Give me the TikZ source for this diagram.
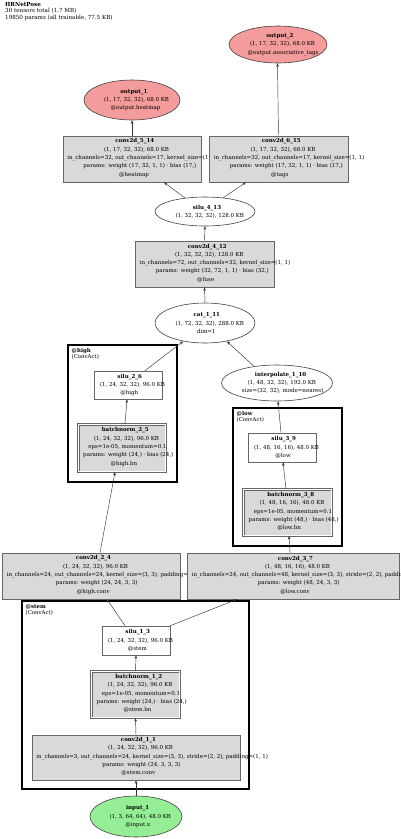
\documentclass[tikz,border=0pt]{standalone}
\usepackage{fontspec}
\setmainfont{DejaVu Serif}
\usetikzlibrary{shapes.geometric,arrows.meta}
\definecolor{boxfill}{HTML}{D9D9D9}
\definecolor{boxline}{HTML}{666666}
\definecolor{outfill}{HTML}{F49B9B}
\definecolor{infill}{HTML}{95EE95}
\definecolor{edgecol}{HTML}{333333}
\newlength\gllen
\newcommand\gl[1]{\settowidth\gllen{#1}\makebox[0.86\gllen][l]{#1}}
\tikzset{
  txt/.style={font=\fontsize{5.5}{8.3}\selectfont, align=center, inner sep=0pt},
  gbox/.style={rectangle, draw=boxline, fill=boxfill, line width=0.6pt, inner sep=0pt},
  wbox/.style={rectangle, draw=boxline, fill=white, line width=0.6pt, inner sep=0pt},
  dbox/.style={rectangle, draw=boxline, double=white, double distance=1.3pt, line width=0.6pt, fill=boxfill, inner sep=0pt},
  well/.style={ellipse, draw=black!75, fill=white, line width=0.6pt, inner sep=0pt},
  oell/.style={ellipse, draw=black!75, fill=outfill, line width=0.6pt, inner sep=0pt},
  iell/.style={ellipse, draw=black!75, fill=infill, line width=0.6pt, inner sep=0pt},
  clus/.style={rectangle, draw=black, line width=2pt, inner sep=0pt},
  clab/.style={font=\fontsize{5.4}{6.1}\selectfont, align=left, inner sep=0pt, anchor=north west},
  edge/.style={draw=edgecol, line width=0.45pt, -{Stealth[length=3.5pt,width=2.6pt]}},
}
\begin{document}
\begin{tikzpicture}[x=1pt,y=-1pt]
\useasboundingbox (0,0) rectangle (400,839);
% title
\node[font=\fontsize{5.6}{6.5}\selectfont, align=left, inner sep=0pt, anchor=north west] (title) at (5,2)
  {\textbf{HRNetPose}\\30 tensors total (1.7 MB)\\19850 params (all trainable, 77.5 KB)};
% clusters
\node[clus, minimum width=109pt, minimum height=137pt] (high) at (122.5,413.5) {};
\node[clab] (highlab) at (71.5,348) {\textbf{@high}\\(ConvAct)};
\node[clus, minimum width=109pt, minimum height=138pt] (low) at (287.5,477) {};
\node[clab] (lowlab) at (236.5,411) {\textbf{@low}\\(ConvAct)};
\node[clus, minimum width=227pt, minimum height=188pt] (stem) at (135.5,695) {};
\node[clab] (stemlab) at (25.5,604) {\textbf{@stem}\\(ConvAct)};
% outputs
\node[oell, minimum width=98pt, minimum height=37pt] (o2) at (278,44.5) {};
\node[txt] (o2t) at (o2) {\gl{\textbf{output\_2}}\\\gl{(1, 17, 32, 32), 68.0 KB}\\\gl{@output.associative\_tags}};
\node[oell, minimum width=96pt, minimum height=40pt] (o1) at (132,100) {};
\node[txt] (o1t) at (o1) {\gl{\textbf{output\_1}}\\\gl{(1, 17, 32, 32), 68.0 KB}\\\gl{@output.heatmap}};
% heads
\node[gbox, minimum width=138pt, minimum height=46pt] (c514) at (132,159) {};
\node[txt] (c514t) at ([yshift=1pt]c514.center) {\gl{\textbf{conv2d\_5\_14}}\\\gl{(1, 17, 32, 32), 68.0 KB}\\\gl{in\_channels=32, out\_channels=17, kernel\_size=(1, 1)}\\\gl{params: weight (17, 32, 1, 1) · bias (17,)}\\\gl{@heatmap}};
\node[gbox, minimum width=139pt, minimum height=46pt] (c615) at (278.5,159) {};
\node[txt] (c615t) at ([yshift=1pt]c615.center) {\gl{\textbf{conv2d\_6\_15}}\\\gl{(1, 17, 32, 32), 68.0 KB}\\\gl{in\_channels=32, out\_channels=17, kernel\_size=(1, 1)}\\\gl{params: weight (17, 32, 1, 1) · bias (17,)}\\\gl{@tags}};
\node[well, minimum width=100pt, minimum height=29pt] (s413) at (205,211.5) {};
\node[txt] (s413t) at (s413) {\gl{\textbf{silu\_4\_13}}\\\gl{(1, 32, 32, 32), 128.0 KB}};
\node[gbox, minimum width=139pt, minimum height=46pt] (c412) at (204.5,264) {};
\node[txt] (c412t) at ([yshift=1pt]c412.center) {\gl{\textbf{conv2d\_4\_12}}\\\gl{(1, 32, 32, 32), 128.0 KB}\\\gl{in\_channels=72, out\_channels=32, kernel\_size=(1, 1)}\\\gl{params: weight (32, 72, 1, 1) · bias (32,)}\\\gl{@fuse}};
\node[well, minimum width=100pt, minimum height=40pt] (cat) at (205,323) {};
\node[txt] (catt) at (cat) {\gl{\textbf{cat\_1\_11}}\\\gl{(1, 72, 32, 32), 288.0 KB}\\\gl{dim=1}};
% high branch
\node[wbox, minimum width=68pt, minimum height=28pt] (s26) at (128,385) {};
\node[txt] (s26t) at (s26) {\gl{\textbf{silu\_2\_6}}\\\gl{(1, 24, 32, 32), 96.0 KB}\\\gl{@high}};
\node[dbox, minimum width=87.5pt, minimum height=47.5pt] (bn25) at (122,448) {};
\node[txt] (bn25t) at ([yshift=1pt]bn25.center) {\gl{\textbf{batchnorm\_2\_5}}\\\gl{(1, 24, 32, 32), 96.0 KB}\\\gl{eps=1e-05, momentum=0.1}\\\gl{params: weight (24,) · bias (24,)}\\\gl{@high.bn}};
% low branch
\node[well, minimum width=111pt, minimum height=36pt] (interp) at (277,383) {};
\node[txt] (interpt) at (interp) {\gl{\textbf{interpolate\_1\_10}}\\\gl{(1, 48, 32, 32), 192.0 KB}\\\gl{size=(32, 32), mode=nearest}};
\node[wbox, minimum width=68pt, minimum height=29pt] (s39) at (282,447.5) {};
\node[txt] (s39t) at (s39) {\gl{\textbf{silu\_3\_9}}\\\gl{(1, 48, 16, 16), 48.0 KB}\\\gl{@low}};
\node[dbox, minimum width=88.5pt, minimum height=46.5pt] (bn38) at (287.5,512.5) {};
\node[txt] (bn38t) at ([yshift=1pt]bn38.center) {\gl{\textbf{batchnorm\_3\_8}}\\\gl{(1, 48, 16, 16), 48.0 KB}\\\gl{eps=1e-05, momentum=0.1}\\\gl{params: weight (48,) · bias (48,)}\\\gl{@low.bn}};
% convs
\node[gbox, minimum width=178pt, minimum height=46pt] (c24) at (91,576) {};
\node[txt] (c24t) at ([yshift=1pt]c24.center) {\gl{\textbf{conv2d\_2\_4}}\\\gl{(1, 24, 32, 32), 96.0 KB}\\\gl{in\_channels=24, out\_channels=24, kernel\_size=(3, 3), padding=(1, 1)}\\\gl{params: weight (24, 24, 3, 3)}\\\gl{@high.conv}};
\node[gbox, minimum width=212pt, minimum height=46pt] (c37) at (293,576) {};
\node[txt] (c37t) at ([yshift=1pt]c37.center) {\gl{\textbf{conv2d\_3\_7}}\\\gl{(1, 48, 16, 16), 48.0 KB}\\\gl{in\_channels=24, out\_channels=48, kernel\_size=(3, 3), stride=(2, 2), padding=(1, 1)}\\\gl{params: weight (48, 24, 3, 3)}\\\gl{@low.conv}};
% stem
\node[wbox, minimum width=68pt, minimum height=29pt] (s13) at (136,640.5) {};
\node[txt] (s13t) at (s13) {\gl{\textbf{silu\_1\_3}}\\\gl{(1, 24, 32, 32), 96.0 KB}\\\gl{@stem}};
\node[dbox, minimum width=88.5pt, minimum height=46.5pt] (bn12) at (135.5,694.5) {};
\node[txt] (bn12t) at ([yshift=1pt]bn12.center) {\gl{\textbf{batchnorm\_1\_2}}\\\gl{(1, 24, 32, 32), 96.0 KB}\\\gl{eps=1e-05, momentum=0.1}\\\gl{params: weight (24,) · bias (24,)}\\\gl{@stem.bn}};
\node[gbox, minimum width=208pt, minimum height=45pt] (c11) at (136,757.5) {};
\node[txt] (c11t) at ([yshift=1pt]c11.center) {\gl{\textbf{conv2d\_1\_1}}\\\gl{(1, 24, 32, 32), 96.0 KB}\\\gl{in\_channels=3, out\_channels=24, kernel\_size=(3, 3), stride=(2, 2), padding=(1, 1)}\\\gl{params: weight (24, 3, 3, 3)}\\\gl{@stem.conv}};
\node[iell, minimum width=92pt, minimum height=41pt] (in1) at (136,816.5) {};
\node[txt] (in1t) at (in1) {\gl{\textbf{input\_1}}\\\gl{(1, 3, 64, 64), 48.0 KB}\\\gl{@input.x}};
% edges
\draw[edge] (in1.north) -- (c11.south);
\draw[edge] (c11.north) -- (bn12.south);
\draw[edge] (bn12.north) -- (s13.south);
\draw[edge] ([xshift=-11pt]s13.north) -- ([xshift=16pt]c24.south);
\draw[edge] (s13.north east) -- ([xshift=-56pt]c37.south);
\draw[edge] ([xshift=9pt]c24.north) -- ([xshift=-7pt]bn25.south);
\draw[edge] ([xshift=3pt]bn25.north) -- ([xshift=-1pt]s26.south);
\draw[edge] ([xshift=17pt]s26.north) -- (cat.220);
\draw[edge] ([xshift=-3pt]c37.north) -- ([xshift=1.5pt]bn38.south);
\draw[edge] ([xshift=-1.5pt]bn38.north) -- ([xshift=1pt]s39.south);
\draw[edge] ([xshift=-1pt]s39.north) -- ([xshift=1pt]interp.south);
\draw[edge] (interp.144) -- (cat.320);
\draw[edge] (cat.north) -- (c412.south);
\draw[edge] (c412.north) -- (s413.south);
\draw[edge] (s413.146) -- ([xshift=32pt]c514.south);
\draw[edge] (s413.37) -- ([xshift=-32.5pt]c615.south);
\draw[edge] (c514.north) -- (o1.south);
\draw[edge] (c615.north) -- ([xshift=-0.5pt]o2.south);
\end{tikzpicture}
\end{document}
